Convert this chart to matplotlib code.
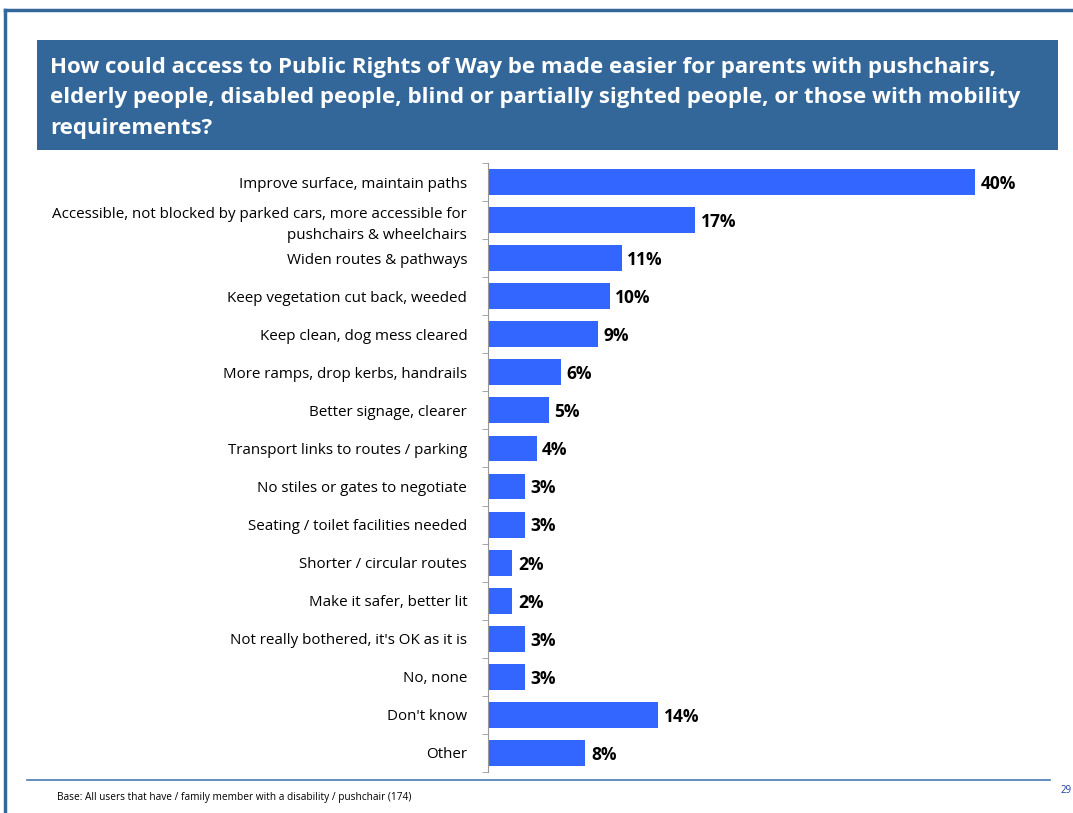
import numpy as np
import matplotlib.pyplot as plt
from matplotlib.patches import Rectangle
from matplotlib.lines import Line2D

categories = [
    "Improve surface, maintain paths",
    "Accessible, not blocked by parked cars, more accessible for\npushchairs & wheelchairs",
    "Widen routes & pathways",
    "Keep vegetation cut back, weeded",
    "Keep clean, dog mess cleared",
    "More ramps, drop kerbs, handrails",
    "Better signage, clearer",
    "Transport links to routes / parking",
    "No stiles or gates to negotiate",
    "Seating / toilet facilities needed",
    "Shorter / circular routes",
    "Make it safer, better lit",
    "Not really bothered, it's OK as it is",
    "No, none",
    "Don't know",
    "Other",
]
values = [40, 17, 11, 10, 9, 6, 5, 4, 3, 3, 2, 2, 3, 3, 14, 8]

title = ("How could access to Public Rights of Way be made easier for parents with pushchairs,\n"
         "elderly people, disabled people, blind or partially sighted people, or those with mobility\n"
         "requirements?")
base_note = "Base: All users that have / family member with a disability / pushchair (174)"

plt.rcParams['font.family'] = ['Open Sans', 'DejaVu Sans']
fig = plt.figure(figsize=(10.73, 8.13), dpi=100)
W, H = 1073, 813

def fx(px):
    return px / W

def fy(py):
    return 1 - py / H

blue = '#336699'
# outer frame lines
fig.add_artist(Line2D([fx(5), fx(1073)], [fy(10), fy(10)], color=blue, lw=2.5))
fig.add_artist(Line2D([fx(5), fx(5)], [fy(10), fy(813)], color=blue, lw=2.5))

# title box
fig.add_artist(Rectangle((fx(37), fy(150)), fx(1058) - fx(37), fy(40) - fy(150),
                         facecolor=blue, edgecolor='none'))
fig.text(fx(50), fy(98), title, color='white', fontsize=16, fontweight='bold',
         va='center', ha='left', linespacing=1.6)

# footer line and note
fig.add_artist(Line2D([fx(27), fx(1050)], [fy(780), fy(780)], color='#4a7ab0', lw=1.2))
fig.text(fx(57), fy(797), base_note, fontsize=7.3, va='center', ha='left')
fig.text(fx(1061), fy(790), "29", fontsize=7, color='#1f3f9f', va='center', ha='left')

ax = fig.add_axes([fx(488), fy(772), fx(1036) - fx(488), fy(163) - fy(772)])
y = np.arange(len(categories))
ax.barh(y, values, height=0.68, color='#3366ff')
ax.set_ylim(len(categories) - 0.5, -0.5)
ax.set_xlim(0, 45)
for yi, v in zip(y, values):
    ax.text(v + 0.45, yi + 0.05, f"{v}%", va='center', ha='left', fontsize=12.5, fontweight='bold')

ax.set_yticks(y)
ax.set_yticklabels(categories, fontsize=10.9)
for lab in ax.get_yticklabels():
    lab.set_linespacing(1.5)
ax.tick_params(axis='y', length=0, pad=15)
ax.set_yticks(np.arange(-0.5, len(categories), 1), minor=True)
ax.tick_params(axis='y', which='minor', length=4, color='#999999')
ax.set_xticks([])
for s in ['top', 'right', 'bottom']:
    ax.spines[s].set_visible(False)
ax.spines['left'].set_color('#999999')

fig.savefig('out.png', dpi=100)
